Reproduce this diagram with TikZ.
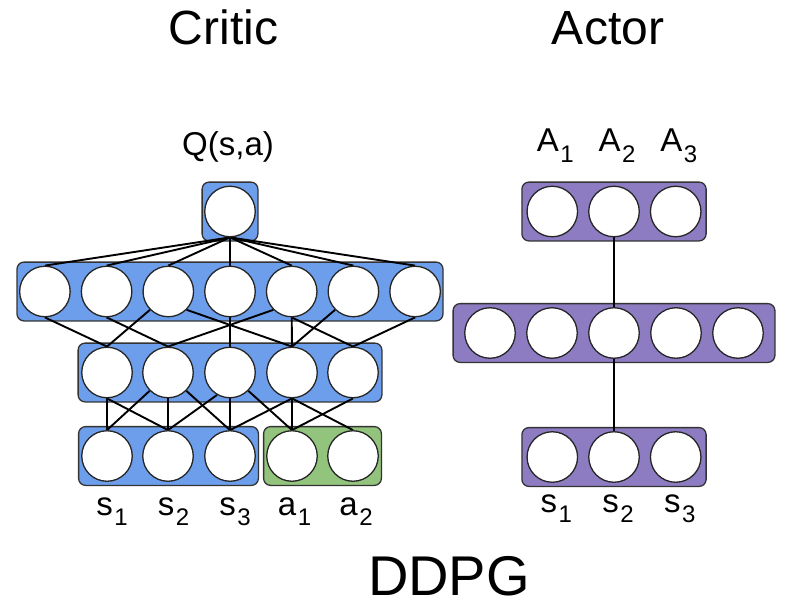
\documentclass[tikz,border=0pt]{standalone}
\usepackage{fontspec}
\setmainfont{Liberation Sans}
\usetikzlibrary{positioning, fit, backgrounds}

\definecolor{criticblue}{HTML}{6D9EEB}
\definecolor{actiongreen}{HTML}{93C47D}
\definecolor{actorpurple}{HTML}{8E7CC3}

\newcommand{\nsub}[1]{\kern1.5pt\raisebox{-10pt}{\fontsize{24}{24}\selectfont #1}}

\begin{document}
\begin{tikzpicture}[x=1pt, y=-1pt,
        neuron/.style={circle, draw=black!85, fill=white, line width=1.3pt, minimum size=50.5pt, inner sep=0pt},
        layerbox/.style={rectangle, rounded corners=7pt, draw=black!80, line width=1.3pt, inner xsep=2pt, inner ysep=3.5pt},
        wire/.style={line width=1.9pt, black},
        heading/.style={font=\fontsize{48}{48}\selectfont, anchor=base},
        lbl/.style={font=\fontsize{33}{33}\selectfont, anchor=base}
    ]
        \useasboundingbox (0,0) rectangle (795,607);

        % Critic neurons
        \node[neuron] (q) at (230,211.5) {};
        \foreach \i in {1,...,7}
            \node[neuron] (h\i) at ({230+(\i-4)*61.7},291.5) {};
        \foreach \x [count=\i] in {107,168,230,292,353} {
            \node[neuron] (g\i) at (\x,372.5) {};
            \node[neuron] (x\i) at (\x,456) {};
        }

        % Actor neurons
        \foreach \i in {1,2,3} {
            \node[neuron] (act\i) at ({614+(\i-2)*61.7},211.5) {};
            \node[neuron] (st\i) at ({614+(\i-2)*61.7},457) {};
        }
        \foreach \i in {1,...,5}
            \node[neuron] (m\i) at ({614+(\i-3)*62},333) {};

        \begin{scope}[on background layer]
            % Layer boxes
            \node[layerbox, fill=criticblue, fit=(q)] (qbox) {};
            \node[layerbox, fill=criticblue, fit=(h1)(h7)] (hbox) {};
            \node[layerbox, fill=criticblue, inner xsep=3pt, fit=(g1)(g5)] (gbox) {};
            \node[layerbox, fill=criticblue, inner xsep=2.5pt, fit=(x1)(x3)] (sbox) {};
            \node[layerbox, fill=actiongreen, inner xsep=2.5pt, fit=(x4)(x5)] (abox) {};
            \node[layerbox, fill=actorpurple, inner xsep=4.5pt, fit=(act1)(act3)] (actbox) {};
            \node[layerbox, fill=actorpurple, inner xsep=11pt, fit=(m1)(m5)] (mbox) {};
            \node[layerbox, fill=actorpurple, inner xsep=4.5pt, fit=(st1)(st3)] (stbox) {};

            % Critic connections
            \foreach \i in {1,...,7}
                \draw[wire] (q.south) -- (h\i.north);
            \foreach \a/\b in {h1.south/g1, h3.-135/g1, h2.south/g2, h3.-45/g4, h5.-135/g2,
                    h4.south/g3, h5.south/g4, h5.south/g5, h6.-135/g4, h7.south/g5}
                \draw[wire] (\a) -- (\b.north);
            \foreach \a/\b in {g1.south/x1, g1.south/x2, g2.-135/x1, g2.south/x2, g2.-45/x3, g3.-120/x2,
                    g3.south/x3, g3.-45/x4, g4.south/x3, g4.south/x4, g4.south/x5, g5.south/x4}
                \draw[wire] (\a) -- (\b.north);

            % Actor connections
            \draw[wire] (act2.south) -- (m3.north);
            \draw[wire] (m3.south) -- (st2.north);
        \end{scope}

        % Labels
        \node[lbl] (qlbl) at (228,155) {Q(s,a)};
        \foreach \i in {1,2,3}
            \node[lbl] (albl\i) at ({614+(\i-2)*61.7+3},152) {A\nsub{\i}};
        \foreach \i in {1,2,3}
            \node[lbl] (slbl\i) at ({230+(\i-3)*61.5+5},515) {s\nsub{\i}};
        \foreach \i in {1,2}
            \node[lbl] (albl\i) at ({230+\i*61.5+3},515) {a\nsub{\i}};
        \foreach \i in {1,2,3}
            \node[lbl] (stlbl\i) at ({614+(\i-2)*61.7+4},512) {s\nsub{\i}};

        % Titles
        \node[heading] (critic) at (223.5,45) {Critic};
        \node[heading] (actor) at (608,45) {Actor};
        \node[heading, font=\fontsize{56}{56}\selectfont] (ddpg) at (449,595) {DDPG};
    \end{tikzpicture}
\end{document}
